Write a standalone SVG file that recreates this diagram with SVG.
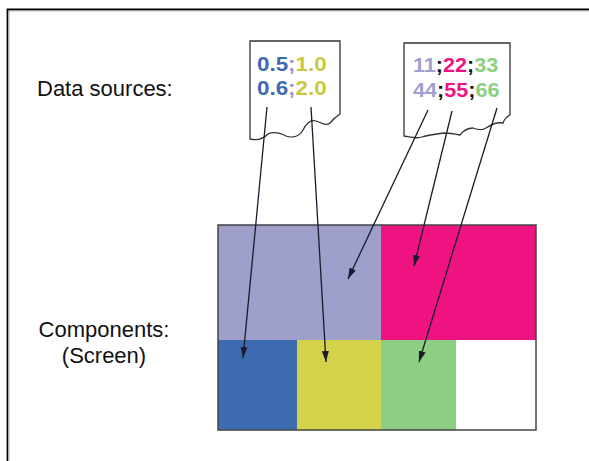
<svg xmlns="http://www.w3.org/2000/svg" width="589" height="461" viewBox="0 0 589 461">
<style>
.lbl{font-family:"Liberation Sans",Arial,sans-serif;font-size:22px;fill:#111}
.num{font-family:"Liberation Sans",Arial,sans-serif;font-size:20px;font-weight:bold}
.paper{fill:#fff;stroke:#333;stroke-width:1.3}
.conn{stroke:#1a1a2e;stroke-width:1.3;fill:none;marker-end:url(#ah)}
.cell{stroke:none}
</style>
<defs>
<marker id="ah" markerUnits="userSpaceOnUse" markerWidth="11" markerHeight="7" refX="11" refY="3.5" orient="auto">
<path d="M0,0 L11,3.5 L0,7 Z" fill="#1a1a2e"/>
</marker>
</defs>
<rect x="0" y="0" width="589" height="461" fill="#fff"/>
<path d="M7.5,461 V9.5 H589" fill="none" stroke="#000" stroke-width="1.8"/>
<path d="M9,461 V11 H589" fill="none" stroke="#bbb" stroke-width="1"/>

<g id="label-data-sources"><text class="lbl" x="37" y="96">Data sources:</text></g>
<g id="label-components">
<text class="lbl" x="104" y="337" text-anchor="middle">Components:</text>
<text class="lbl" x="104" y="363" text-anchor="middle">(Screen)</text>
</g>

<g id="source1">
<path class="paper" d="M250,41 H340 V114 C337,116 334,118 331,122 C327,127 322,123 316,121 C310,119 306,124 303,130 C299,137 292,138 286,136 C280,133 274,131 268,134 C264,138 258,141 250,139 Z"/>
<text class="num" transform="translate(257,71) scale(1.12,1)"><tspan fill="#3d6bb0">0.5</tspan><tspan fill="#a08fd0">;</tspan><tspan fill="#c9c843">1.0</tspan></text>
<text class="num" transform="translate(257,95) scale(1.12,1)"><tspan fill="#3d6bb0">0.6</tspan><tspan fill="#a08fd0">;</tspan><tspan fill="#c9c843">2.0</tspan></text>
</g>

<g id="source2">
<path class="paper" d="M404,43 H510 V115 C506,117 504,120 503,123 C498,122 492,124 486,128 C482,131 478,130 473,128 C468,128 463,131 460,135 C455,134 450,133 444,133 C436,134 428,135 422,137 C416,139 410,137 404,136 Z"/>
<text class="num" transform="translate(413,72) scale(1.08,1)"><tspan fill="#a0a0d0">11</tspan><tspan fill="#111">;</tspan><tspan fill="#ee1380">22</tspan><tspan fill="#111">;</tspan><tspan fill="#8dcf82">33</tspan></text>
<text class="num" transform="translate(413,97) scale(1.08,1)"><tspan fill="#a0a0d0">44</tspan><tspan fill="#111">;</tspan><tspan fill="#ee1380">55</tspan><tspan fill="#111">;</tspan><tspan fill="#8dcf82">66</tspan></text>
</g>

<g id="screen">
<rect class="cell" x="218" y="225" width="163" height="115" fill="#9f9fcc"/>
<rect class="cell" x="381" y="225" width="155" height="115" fill="#ee1380"/>
<rect class="cell" x="218" y="340" width="79" height="90" fill="#3d6bb0"/>
<rect class="cell" x="297" y="340" width="84" height="90" fill="#d4d24a"/>
<rect class="cell" x="381" y="340" width="75" height="90" fill="#8dcf82"/>
<rect class="cell" x="456" y="340" width="80" height="90" fill="#fff"/>
<rect x="218" y="225" width="318" height="205" fill="none" stroke="#444" stroke-width="1.5"/>
</g>

<g id="connectors">
<line class="conn" x1="267" y1="107" x2="243" y2="358"/>
<line class="conn" x1="311" y1="107" x2="326" y2="362"/>
<line class="conn" x1="428" y1="110" x2="348" y2="279"/>
<line class="conn" x1="452" y1="111" x2="414" y2="266"/>
<line class="conn" x1="497" y1="108" x2="419" y2="362"/>
</g>
</svg>
